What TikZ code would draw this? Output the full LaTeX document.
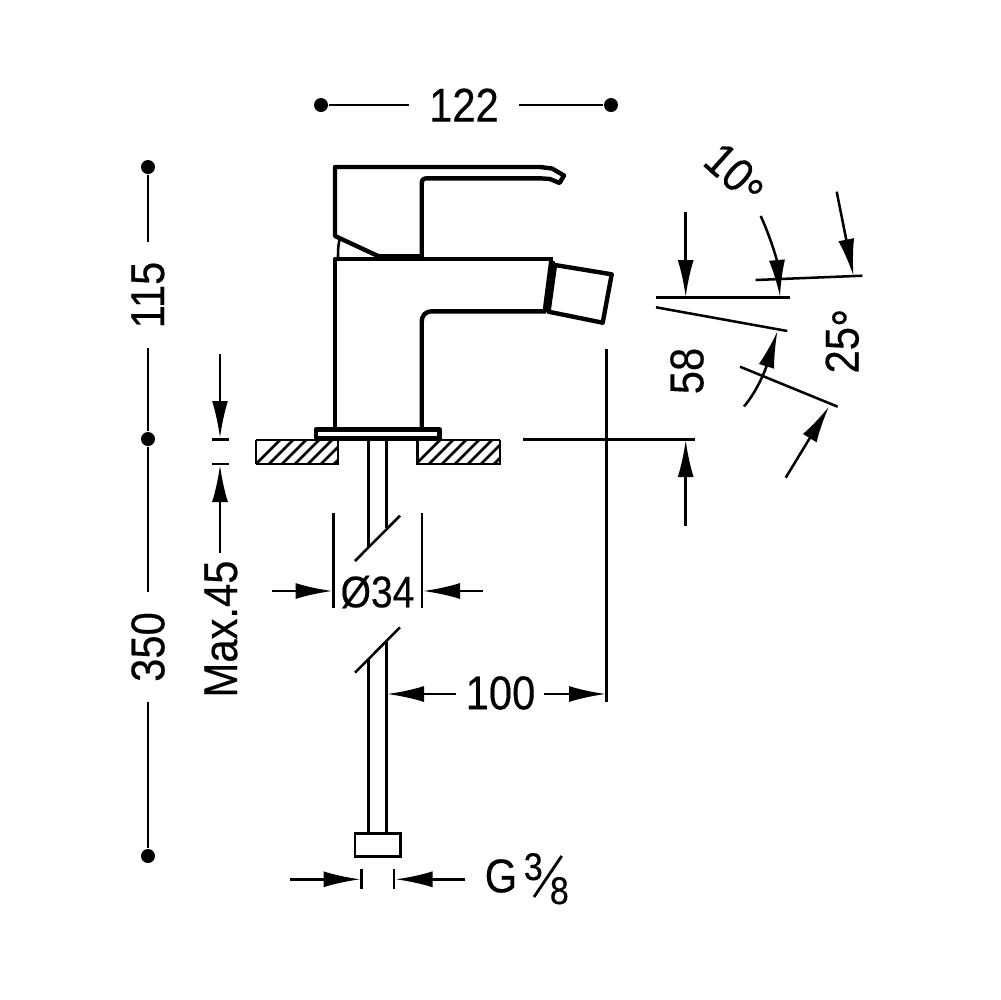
\documentclass[tikz,border=0pt]{standalone}
\usepackage{fontspec}
\setmainfont[FakeStretch=0.88,FakeBold=0.3]{Liberation Sans}
\usepackage{tikz}
\usetikzlibrary{arrows.meta, positioning}
\tikzstyle{every node}=[font=\fontsize{13.5pt}{15pt}\selectfont]
\tikzstyle{dim}=[inner sep=0pt,outer xsep=2mm]
\tikzstyle{tag}=[inner sep=0pt]
\tikzstyle{dot}=[circle,fill=black,inner sep=0pt,minimum size=1.4mm]
\tikzstyle{heavy}=[line width=1.25pt,line join=round]
\tikzstyle{thin line}=[line width=.72pt]
\newcommand{\dgr}{\raisebox{-1mm}{\scalebox{1.1}{°}}}
\begin{document}
\begin{tikzpicture}[x=.1mm,y=-.1mm,>={Latex[length=3.7mm,width=1.6mm]}]
  \useasboundingbox (0,0) rectangle (1000,1000);
  % overall dimensions
  \node[dot] (topL) at (321,105) {};
  \node[dot] (topR) at (611,105) {};
  \node[dim] (w122) at (464,105) {122};
  \draw[thin line] (topL) -- (w122);
  \draw[thin line] (w122) -- (topR);
  \node[dot] (sideA) at (148,167) {};
  \node[dot] (sideB) at (148,439) {};
  \node[dot] (sideC) at (148,856) {};
  \node[dim,rotate=90] (h115) at (148,295) {115};
  \node[dim,rotate=90] (h350) at (148,647) {350};
  \draw[thin line] (sideA) -- (h115);
  \draw[thin line] (h115) -- (sideB);
  \draw[thin line] (sideB) -- (h350);
  \draw[thin line] (h350) -- (sideC);
  % lever
  \draw[heavy] (378,256) -- (335,236) -- (335,167) -- (540,167) -- (552,168.5)
    -- (564,175.5) -- (559.5,183) -- (550,179) -- (540,178.3) -- (427,178.3)
    .. controls (423,178.3) and (421.7,180) .. (421.7,184) -- (421.7,257);
  \draw[line width=1.6pt] (378,256.5) -- (421.7,256.5);
  \draw[thin line] (339.5,240) .. controls (338,246) and (338,251) .. (338,258);
  % body and spout
  \draw[heavy] (335,428) -- (335,259) -- (552.7,259);
  \draw[heavy] (421.7,428) -- (421.7,323) .. controls (421.7,315) and (425,311.3) .. (433,311.3) -- (546,311.3);
  \draw[line width=1.7pt] (552,261) -- (545.5,311.5);
  \draw[heavy] (555,265) -- (611.7,274.3) -- (602.7,322.7) -- (548.5,311.7) -- cycle;
  % base plate
  \draw[heavy] (316,429.5) rectangle (439.5,438.5);
  \draw[line width=1.4pt] (316,439) -- (439.5,439);
  % counter top
  \begin{scope}
    \clip (256,440) rectangle (338,464);
    \foreach \hx in {250,263,...,370}
      \draw[thin line] (\hx,470) -- (\hx+35,435);
  \end{scope}
  \begin{scope}
    \clip (417.5,440) rectangle (500,464);
    \foreach \hx in {410,423,...,520}
      \draw[thin line] (\hx,470) -- (\hx+35,435);
  \end{scope}
  \draw[thin line] (256,464) -- (338,464) -- (338,440);
  \draw[thin line] (417.5,440) -- (417.5,464) -- (500,464) -- (500,440);
  \draw[thin line] (256,464) -- (256,440);
  \draw[thin line] (439,440) -- (500,440);
  \draw[thin line] (256,440) -- (316,440);
  % pipe
  \draw[thin line] (368.3,440) -- (368.3,547);
  \draw[thin line] (386.7,440) -- (386.7,528);
  \draw[thin line] (355,561) -- (400,515.7);
  \draw[thin line] (355,672.7) -- (400,627.3);
  \draw[thin line] (368.3,660) -- (368.3,833);
  \draw[thin line] (386.7,641.7) -- (386.7,833);
  \draw[line width=.85pt] (355,833.3) rectangle (400.7,856.7);
  % diameter
  \draw[thin line] (333.3,513.3) -- (333.3,608.3);
  \draw[thin line] (422,513.3) -- (422,608.3);
  \node[tag,font=\fontsize{12.6pt}{15pt}\selectfont] (dia34) at (377.5,592) {Ø34};
  \coordinate (diaA) at (271.7,591);
  \coordinate (diaB) at (483.3,591);
  \draw[->,thin line] (diaA) -- (332.5,591);
  \draw[->,thin line] (diaB) -- (423,591);
  % spout offset
  \draw[thin line] (606.5,349) -- (606.5,702);
  \node[tag] (r100) at (500.5,693) {100};
  \draw[->,thin line] (r100.west) ++(-9,1) -- (387,694);
  \draw[->,thin line] (r100.east) ++(8,1) -- (606,694);
  % max. thickness
  \draw[thin line] (212,439.5) -- (229,439.5);
  \draw[thin line] (212,464) -- (229,464);
  \coordinate (maxA) at (220,354);
  \coordinate (maxB) at (220,553);
  \draw[->,thin line] (maxA) -- (220,438);
  \draw[->,thin line] (maxB) -- (220,465);
  \node[tag,rotate=90] (max45) at (221,629) {Max.45};
  % height
  \draw[thin line] (522.5,439.5) -- (695,439.5);
  \coordinate (hA) at (685.7,212);
  \coordinate (hB) at (685.7,526);
  \draw[->,thin line] (hA) -- (685.7,297);
  \draw[->,thin line] (hB) -- (685.7,440);
  \node[tag,rotate=90] (h58) at (687,371) {58};
  % angles
  \draw[thin line] (656,297.7) -- (790,297.7);
  \draw[thin line] (656,307.3) -- (787.3,331);
  \draw[thin line] (755.7,280) -- (862.3,275.7);
  \draw[thin line] (740,366.7) -- (837.7,406.7);
  \coordinate (angA) at (836.7,191.7);
  \coordinate (angB) at (760.7,216);
  \coordinate (angC) at (744,406.5);
  \coordinate (angD) at (785.7,477.7);
  \draw[->,thin line] (angA) -- (853.5,276);
  \draw[->,thin line] (angB) .. controls (770,236) and (777,260) .. (780,297);
  \draw[->,thin line] (angC) .. controls (758,390) and (766,368) .. (777.5,331);
  \draw[->,thin line] (angD) -- (829,406.5);
  \node[tag,rotate=-42] (a10) at (733,177) {10\dgr};
  \node[tag,rotate=90] (a25) at (847,341) {25\dgr};
  % connection size
  \draw[thin line] (361.7,869) -- (361.7,889);
  \draw[thin line] (394,869) -- (394,889);
  \coordinate (gA) at (290,879.3);
  \coordinate (gB) at (465,879.3);
  \draw[->,thin line] (gA) -- (360.5,879.3);
  \draw[->,thin line] (gB) -- (395.5,879.3);
  \node[tag] (gLabel) at (501,876) {G};
  \node[tag] (gNum) at (533.3,866.7) {\fontsize{11pt}{12pt}\selectfont 3};
  \draw[line width=.8pt] (534,897) -- (561.7,856);
  \node[tag] (gDen) at (559.3,890.7) {\fontsize{11pt}{12pt}\selectfont 8};
\end{tikzpicture}
\end{document}
